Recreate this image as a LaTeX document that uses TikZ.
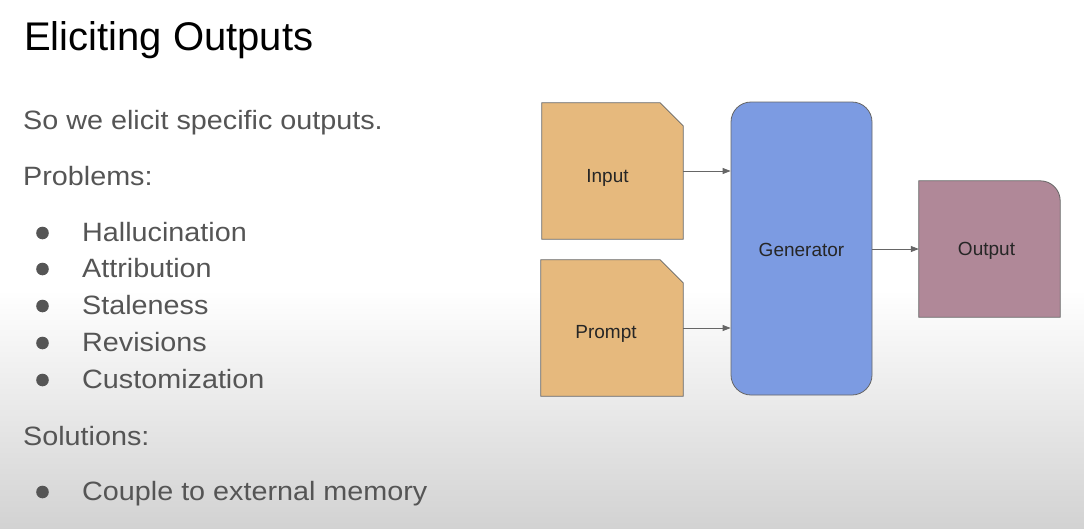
\documentclass[tikz,border=0pt]{standalone}
\usepackage{fontspec}
\setmainfont{Liberation Sans}
\newfontfamily\widesans[FakeStretch=1.085]{Liberation Sans}
\usetikzlibrary{arrows.meta}
\definecolor{inkgray}{HTML}{555555}
\definecolor{edgegray}{HTML}{666666}
\definecolor{docfill}{HTML}{E6B97D}
\definecolor{genfill}{HTML}{7C9BE2}
\definecolor{outfill}{HTML}{B08898}
\tikzset{
  heading/.style={anchor=base west,inner sep=0pt,text=black,font=\fontsize{40}{46}\selectfont},
  bodytext/.style={anchor=base west,inner sep=0pt,text=inkgray,font=\widesans\fontsize{26.5}{32}\selectfont},
  dot/.style={fill=inkgray},
  boxarea/.style={rectangle,inner sep=0pt,minimum width=141pt,minimum height=136pt},
  boxline/.style={draw=edgegray,line width=0.8pt},
  genbox/.style={rectangle,rounded corners=20pt,boxline,fill=genfill,
    inner sep=0pt,minimum width=141pt,minimum height=293pt},
  boxlabel/.style={font=\fontsize{19}{23}\selectfont,text=black!85},
  flow/.style={draw=edgegray,line width=0.8pt,-{Triangle[length=8pt,width=6pt]}}
}
\begin{document}
\begin{tikzpicture}[x=1pt,y=-1pt]
  % page and its soft grey fade at the bottom
  \useasboundingbox (0,0) rectangle (1084,528);
  \fill[white] (0,0) rectangle (1084,528);
  \shade[top color=white,bottom color=gray!35] (0,290) rectangle (1084,528);

  % slide text
  \node[heading] (title) at (24,50) {Eliciting Outputs};
  \node[bodytext] (intro) at (23,129) {So we elicit specific outputs.};
  \node[bodytext] (problems) at (23,185) {Problems:};
  \node[bodytext] (p1) at (82,241) {Hallucination};
  \node[bodytext] (p2) at (82,277) {Attribution};
  \node[bodytext] (p3) at (82,314) {Staleness};
  \node[bodytext] (p4) at (82,351) {Revisions};
  \node[bodytext] (p5) at (82,388) {Customization};
  \node[bodytext] (solutions) at (23,445) {Solutions:};
  \node[bodytext] (s1) at (82,500) {Couple to external memory};
  \foreach \y in {233,269,306,343,380,492}
    \fill[dot] (42.5,\y) circle[radius=6.3pt];

  % document boxes with a snipped top-right corner
  \node[boxarea] (in) at (612.5,171) {};
  \node[boxarea,minimum width=142pt] (prompt) at (612,328) {};
  \foreach \b in {in,prompt}
    \path[boxline,fill=docfill]
      (\b.south west) -- (\b.north west) -- ([xshift=-23pt]\b.north east)
      -- ([yshift=-23pt]\b.north east) -- (\b.south east) -- cycle;
  \node[boxlabel] at ([shift={(-5pt,-7pt)}]in.center) {Input};
  \node[boxlabel] at ([shift={(-6pt,-6pt)}]prompt.center) {Prompt};

  % generator
  \node[genbox] (gen) at (801.5,248.5) {};
  \node[boxlabel] at ([yshift=-1pt]gen.center) {Generator};

  % output box with a rounded top-right corner
  \node[boxarea] (out) at (989.5,249) {};
  \path[boxline,fill=outfill]
    (out.south west) -- (out.north west) -- ([xshift=-20pt]out.north east)
    arc[start angle=90,end angle=0,radius=20pt] -- (out.south east) -- cycle;
  \node[boxlabel] at ([shift={(-3pt,-2pt)}]out.center) {Output};

  % connectors
  \draw[flow] (in.east) -- (in.east -| gen.west);
  \draw[flow] (prompt.east) -- (prompt.east -| gen.west);
  \draw[flow] (gen.east |- out.west) -- (out.west);
\end{tikzpicture}
\end{document}
